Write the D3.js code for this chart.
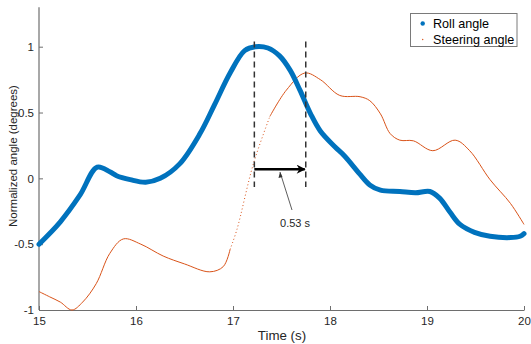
<!DOCTYPE html>
<html>
<head>
<meta charset="utf-8">
<style>
  body { margin: 0; background: #fff; }
  svg { font-family: "Liberation Sans", Arial, sans-serif; }
  .tick text { font-size: 11.5px; fill: #262626; }
</style>
</head>
<body>
<script src="https://cdn.jsdelivr.net/npm/d3@7"></script>
<script>
const rollT = [15, 15.22, 15.42, 15.6, 15.73, 15.8, 15.94, 16.1, 16.25, 16.45, 16.66, 16.81, 16.97, 17.12, 17.23, 17.36, 17.48, 17.59, 17.69, 17.8, 17.9, 18.05, 18.15, 18.31, 18.41, 18.52, 18.72, 18.88, 19.03, 19.13, 19.24, 19.34, 19.49, 19.65, 19.86, 19.96, 20];
const rollV = [-0.5, -0.33, -0.13, 0.085, 0.05, 0.02, -0.01, -0.03, 0.0, 0.11, 0.34, 0.56, 0.8, 0.97, 1.0, 0.99, 0.93, 0.82, 0.67, 0.49, 0.36, 0.24, 0.17, 0.03, -0.05, -0.09, -0.1, -0.11, -0.1, -0.15, -0.26, -0.35, -0.41, -0.44, -0.45, -0.44, -0.42];

const steerT = [15, 15.11, 15.22, 15.34, 15.45, 15.59, 15.73, 15.87, 16.05, 16.28, 16.5, 16.76, 16.9, 16.97, 17.04, 17.21, 17.38, 17.55, 17.74, 17.9, 18.1, 18.31, 18.41, 18.52, 18.62, 18.72, 18.86, 19.06, 19.29, 19.44, 19.65, 19.86, 20];
const steerV = [-0.86, -0.9, -0.94, -1.0, -0.94, -0.8, -0.57, -0.46, -0.5, -0.59, -0.65, -0.71, -0.67, -0.54, -0.39, 0.11, 0.47, 0.67, 0.8, 0.75, 0.63, 0.62, 0.59, 0.49, 0.34, 0.29, 0.285, 0.21, 0.29, 0.21, -0.01, -0.19, -0.35];

const xTicks = [15, 16, 17, 18, 19, 20];
const yTicks = [-1, -0.5, 0, 0.5, 1];

// annotation: lag between roll peak and steering peak
const lagStart = 17.22, lagEnd = 17.75, lagY = 0.07;
const lagLabel = "0.53 s";

const width = 531, height = 344;
const svg = d3.select("body").append("svg")
  .attr("width", width).attr("height", height);

const x = d3.scaleLinear().domain([15, 20]).range([39, 524]);
const y = d3.scaleLinear().domain([-1, 1.3]).range([310, 7.2]);

const blue = "#0072BD", orange = "#D95319";

// axes (MATLAB style, ticks inside, no box)
const xAxis = svg.append("g")
  .attr("transform", `translate(0,${y(-1)})`)
  .call(d3.axisBottom(x).tickValues(xTicks).tickFormat(d3.format("d"))
    .tickSizeInner(-4).tickSizeOuter(0).tickPadding(7));
const yAxis = svg.append("g")
  .attr("transform", `translate(${x(15)},0)`)
  .call(d3.axisLeft(y).tickValues(yTicks).tickFormat(d => d)
    .tickSizeInner(-4).tickSizeOuter(0).tickPadding(5));
[xAxis, yAxis].forEach(a => {
  a.select(".domain").attr("stroke", "#6e6e6e").attr("stroke-width", 1.2);
  a.selectAll(".tick line").attr("stroke", "#6e6e6e");
});
// extend the y axis line to the top of the plot
yAxis.select(".domain").attr("d", `M0,${y(1.3)}V${y(-1)}`);

svg.append("text").attr("x", 282).attr("y", 340)
  .attr("text-anchor", "middle").attr("font-size", 13.3).attr("fill", "#262626")
  .text("Time (s)");
svg.append("text")
  .attr("transform", `translate(17,${156}) rotate(-90)`)
  .attr("text-anchor", "middle").attr("font-size", 11.5).attr("fill", "#262626")
  .text("Normalized angle (degrees)");

const line = d3.line().x(d => x(d[0])).y(d => y(d[1])).curve(d3.curveCatmullRom.alpha(0.5));

const steer = steerT.map((t, i) => [t, steerV[i]]);
const roll = rollT.map((t, i) => [t, rollV[i]]);

// steering angle: thin, sparse dots on the steep rise
const iA = steerT.indexOf(16.97), iB = steerT.indexOf(17.38);
svg.append("path").attr("d", line(steer.slice(0, iA + 1)))
  .attr("fill", "none").attr("stroke", orange).attr("stroke-width", 1);
svg.append("path").attr("d", line(steer.slice(iA, iB + 1)))
  .attr("fill", "none").attr("stroke", orange).attr("stroke-width", 1)
  .attr("stroke-dasharray", "1,2.5");
svg.append("path").attr("d", line(steer.slice(iB)))
  .attr("fill", "none").attr("stroke", orange).attr("stroke-width", 1);

// roll angle: dense thick dots
svg.append("path").attr("d", line(roll))
  .attr("fill", "none").attr("stroke", blue).attr("stroke-width", 5)
  .attr("stroke-linecap", "round").attr("stroke-linejoin", "round");

// dashed markers
[lagStart, lagEnd].forEach(t => {
  svg.append("line")
    .attr("x1", x(t)).attr("x2", x(t))
    .attr("y1", y(1.04)).attr("y2", y(-0.065))
    .attr("stroke", "#333").attr("stroke-width", 1.5)
    .attr("stroke-dasharray", "6,4");
});

// arrow
svg.append("defs").append("marker")
  .attr("id", "head").attr("viewBox", "0 0 10 10")
  .attr("refX", 9).attr("refY", 5)
  .attr("markerWidth", 4.4).attr("markerHeight", 3.6)
  .attr("markerUnits", "strokeWidth").attr("orient", "auto")
  .append("path").attr("d", "M0,0L10,5L0,10L3,5Z").attr("fill", "#000");
svg.append("line")
  .attr("x1", x(lagStart)).attr("x2", x(lagEnd) - 1)
  .attr("y1", y(lagY)).attr("y2", y(lagY))
  .attr("stroke", "#000").attr("stroke-width", 2.5)
  .attr("marker-end", "url(#head)");

// text arrow
svg.append("line")
  .attr("x1", 292).attr("y1", 210).attr("x2", 280).attr("y2", 172)
  .attr("stroke", "#333").attr("stroke-width", 0.8);
svg.append("path").attr("d", "M280,172L278.5,178L282.5,177Z").attr("fill", "#333");
svg.append("text").attr("x", 295).attr("y", 226.5)
  .attr("text-anchor", "middle").attr("font-size", 11).attr("fill", "#262626")
  .text(lagLabel);

// legend
const lg = svg.append("g");
lg.append("rect").attr("x", 410.5).attr("y", 13.5).attr("width", 106.5).attr("height", 33)
  .attr("fill", "#fff").attr("stroke", "#7a7a7a").attr("stroke-width", 1);
lg.append("circle").attr("cx", 422.7).attr("cy", 23.5).attr("r", 2.2).attr("fill", blue);
lg.append("circle").attr("cx", 422.7).attr("cy", 39.5).attr("r", 0.7).attr("fill", orange);
lg.append("text").attr("x", 433).attr("y", 28).attr("font-size", 12.6).attr("fill", "#000").text("Roll angle");
lg.append("text").attr("x", 433).attr("y", 44).attr("font-size", 12.6).attr("fill", "#000").text("Steering angle");
</script>
</body>
</html>
